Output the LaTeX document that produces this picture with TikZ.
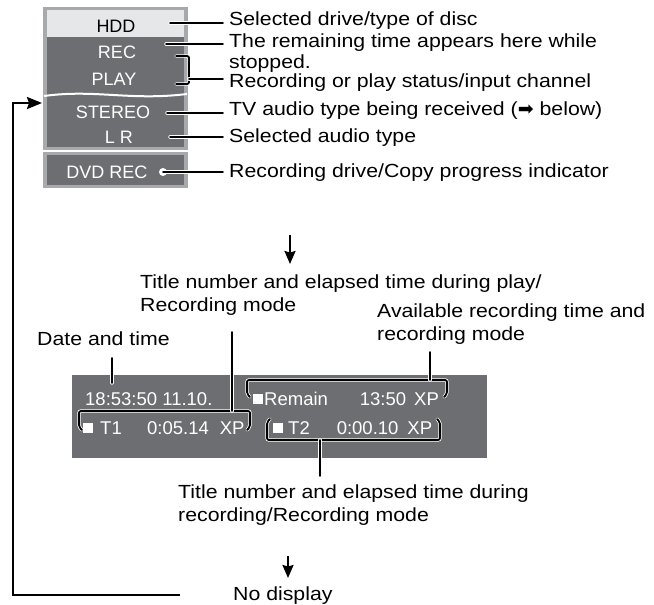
\documentclass[tikz,border=0pt]{standalone}
\usepackage{fontspec}
\setmainfont{Liberation Sans}
\newfontfamily\widefont[FakeStretch=1.12]{Liberation Sans}
\newfontfamily\symfont{DejaVu Sans}
\usetikzlibrary{arrows.meta,positioning,calc}
\definecolor{scrdark}{HTML}{6D6E71}
\definecolor{scrlight}{HTML}{E6E7E8}
\definecolor{scrframe}{HTML}{A7A9AC}
\newcommand{\sq}{\rule[1.5pt]{10pt}{10pt}}
\tikzset{
  lab/.style  ={inner xsep=6pt, inner ysep=0pt, anchor=base west, align=left,
                font=\widefont\fontsize{19}{23}\selectfont},
  disp/.style ={inner sep=0pt, anchor=base, text=white,
                font=\fontsize{18}{22}\selectfont},
  osd/.style  ={inner sep=0pt, anchor=base west, text=white,
                font=\fontsize{18.5}{22}\selectfont},
  lead/.style ={draw=white, double=black, double distance=1.8pt,
                line width=0.8pt, line cap=round},
  hook/.style ={lead, rounded corners=2pt},
  ar/.style   ={-{Stealth[length=13pt,width=11pt,inset=1.5pt]}, line width=1.8pt},
  loop/.style ={-{Stealth[length=15pt,width=12pt,inset=2pt]}, line width=2pt}
}
\begin{document}
\begin{tikzpicture}[x=1pt,y=-1pt]
\useasboundingbox (0,0) rectangle (654,605);

% front panel display
\fill[scrframe] (43,7) rectangle (188,150);
\fill[scrlight] (47,10) rectangle (184,37);
\fill[scrdark]  (47,37) rectangle (184,147);
\draw[white, line width=2pt] (44,96) .. controls (95,89) and (130,101) .. (187,94);
\fill[scrframe] (43,152) rectangle (188,188);
\fill[scrdark]  (47,155) rectangle (184,185);

\node[disp, text=black] (hdd) at (116,32) {HDD};
\node[disp] (rec)    at (117,58)  {REC};
\node[disp] (play)   at (114,85)  {PLAY};
\node[disp] (stereo) at (113,118) {STEREO};
\node[disp] (lr)     at (119,143) {L R};
\node[disp] (dvdrec) at (107,178) {DVD REC};
\node[circle, fill=white, inner sep=0pt, minimum size=8pt] (dot) at (163,172) {};

\node[lab] (l-hdd)    at (223,25)  {Selected drive/type of disc};
\node[lab] (l-rem)    at (223,68)  {The remaining time appears here while\\[-2pt]stopped.};
\node[lab] (l-play)   at (223,87)  {Recording or play status/input channel};
\node[lab] (l-stereo) at (223,115) {TV audio type being received ({\symfont ➡} below)};
\node[lab] (l-lr)     at (223,142) {Selected audio type};
\node[lab] (l-dvd)    at (223,177) {Recording drive/Copy progress indicator};

\coordinate (h-hdd)    at (170,23);
\coordinate (h-rec)    at (166,44);
\coordinate (h-play)   at (189,79);
\coordinate (h-stereo) at (167,113);
\coordinate (h-lr)     at (170,137);
\draw[lead] (h-hdd) -- (h-hdd -| l-hdd.west);
\draw[lead] (h-rec) -- (h-rec -| l-rem.west);
\draw[hook] (176,56) -- (189,56) -- (189,84) -- (176,84);
\draw[lead] (h-play) -- (h-play -| l-play.west);
\draw[lead] (h-stereo) -- (h-stereo -| l-stereo.west);
\draw[lead] (h-lr) -- (h-lr -| l-lr.west);
\draw[lead] (dot.center) -- (dot.center -| l-dvd.west);

% on-screen display
\coordinate (a1) at (290,235);
\coordinate (a1e) at (290,264);
\draw[ar] (a1) -- (a1e);

\node[lab] (l-title) at (134,311) {Title number and elapsed time during play/\\Recording mode};
\node[lab] (l-avail) at (371,340) {Available recording time and\\recording mode};
\node[lab] (l-date)  at (31,345)  {Date and time};

\fill[scrdark] (72,375) rectangle (487,458);
\node[osd] (clock)  at (85,405)  {18:53:50 11.10.};
\node[osd] (remain) at (253,405) {\sq\hspace{1pt}Remain\hspace{32pt}13:50\hspace{8pt}XP};
\node[osd] (t1)     at (83,434)  {\sq\hspace{7pt}T1\hspace{25.4pt}0:05.14\hspace{11pt}XP};
\node[osd] (t2)     at (273,434) {\sq\hspace{5pt}T2\hspace{27pt}0:00.10\hspace{9pt}XP};

\coordinate (d-top) at (112,358);
\coordinate (d-bot) at (112,383);
\draw[lead] (d-top) -- (d-bot);
\draw[hook] (82,430) -- (79,427) -- (79,411) -- (250,411) -- (250,427) -- (247,430);
\coordinate (t1-up) at (232,411);
\coordinate (t1-end) at (232,332);
\draw[lead] (t1-up) -- (t1-end);
\draw[hook] (250,397) -- (247,394) -- (247,380) -- (447,380) -- (447,394) -- (444,397);
\coordinate (rm-up) at (430,380);
\coordinate (rm-end) at (430,352);
\draw[lead] (rm-up) -- (rm-end);
\draw[hook] (270,419) -- (267,422) -- (267,440) -- (440,440) -- (440,422) -- (437,419);
\coordinate (t2-dn) at (320,440);
\coordinate (t2-end) at (320,476);
\draw[lead] (t2-dn) -- (t2-end);

\node[lab] (l-recmode) at (172,521) {Title number and elapsed time during\\recording/Recording mode};

\coordinate (a2) at (288,556);
\coordinate (a2e) at (288,578);
\draw[ar] (a2) -- (a2e);
\node[lab] (l-nodisp) at (227,600) {No display};

\coordinate (loopend) at (180,595);
\coordinate (loopin) at (42,103);
\draw[loop] (loopend) -- ++(-167,0) |- (loopin);
\end{tikzpicture}
\end{document}
